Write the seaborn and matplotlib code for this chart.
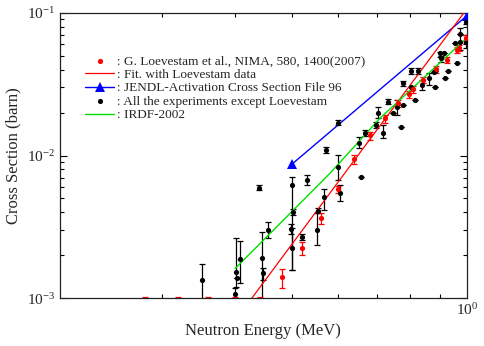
import matplotlib
matplotlib.use("Agg")
import matplotlib.pyplot as plt
import matplotlib.ticker as mticker
import seaborn as sns
import pandas as pd
import numpy as np

# ---------------- data ----------------
# Loevestam data (red points): energy (MeV), cross section (barn), error-bar ends
red_E  = [0.280, 0.319, 0.359, 0.3997, 0.4413, 0.4809, 0.5204, 0.5611, 0.6016, 0.6407,
          0.6823, 0.7237, 0.7610, 0.7969, 0.8077, 0.8421, 0.8856, 0.9239, 0.9634, 0.9712, 0.998]
red_xs = [0.0007, 0.0007, 0.0007, 0.0007, 0.0007, 0.00140, 0.00226, 0.00363, 0.00580, 0.0094,
          0.0139, 0.0182, 0.0232, 0.0268, 0.0291, 0.0338, 0.0401, 0.0466, 0.0548, 0.0563, 0.0662]
red_lo = [0.0005, 0.0005, 0.0005, 0.0005, 0.0005, 0.001175, 0.00202, 0.00330, 0.00545, 0.0087,
          0.0128, 0.0169, 0.0218, 0.0252, 0.0275, 0.0320, 0.0377, 0.0442, 0.0520, 0.0535, 0.0611]
red_hi = [0.00102, 0.00102, 0.00102, 0.00102, 0.00102, 0.00160, 0.00249, 0.00396, 0.00608, 0.0101,
          0.0147, 0.0192, 0.0245, 0.0284, 0.0307, 0.0356, 0.0424, 0.0491, 0.0578, 0.0593, 0.0699]

# All the other experiments (black points)
blk_E  = [0.351, 0.4395, 0.4007, 0.4024, 0.4076, 0.3997, 0.4454, 0.4471, 0.4550, 0.5014,
          0.5022, 0.4989, 0.5014, 0.5309, 0.5204, 0.5536, 0.5545, 0.5691, 0.6016, 0.5723,
          0.6016, 0.6060, 0.6580, 0.6535, 0.6686, 0.7169, 0.6982, 0.7046, 0.7329, 0.7700,
          0.7458, 0.7596, 0.7762, 0.7762, 0.8013, 0.8237, 0.8032, 0.8150, 0.8368, 0.8624,
          0.8821, 0.8821, 0.9033, 0.8997, 0.9141, 0.9177, 0.9298, 0.9548, 0.9612, 0.9739,
          0.9739, 0.9972, 0.999, 0.877]
blk_xs = [0.00134, 0.00595, 0.00154, 0.00138, 0.00188, 0.00107, 0.00191, 0.00150, 0.00301, 0.00621,
          0.00404, 0.00304, 0.00226, 0.00674, 0.00270, 0.00301, 0.00411, 0.00515, 0.0170, 0.0109,
          0.00835, 0.00545, 0.00704, 0.0122, 0.0143, 0.0143, 0.0164, 0.0197, 0.0238, 0.0159,
          0.0197, 0.0220, 0.0226, 0.0320, 0.0391, 0.0391, 0.0303, 0.0245, 0.0312, 0.0347,
          0.0300, 0.0393, 0.0479, 0.0519, 0.0519, 0.0347, 0.0391, 0.0611, 0.0442, 0.0626,
          0.0706, 0.0626, 0.0865, 0.0386]
blk_lo = [0.00095, 0.00569, 0.00120, 0.00138, 0.001285, 0.00100, 0.00095, 0.00134, 0.00263, 0.00158,
          0.00386, 0.00280, 0.00158, 0.00621, 0.00258, 0.00236, 0.00393, 0.00415, 0.0163, 0.0104,
          0.00674, 0.00480, 0.00704, 0.01125, 0.0137, 0.0133, 0.0157, 0.0182, 0.0228, 0.0159,
          0.0197, 0.0192, 0.0226, 0.0306, 0.0374, 0.0374, 0.0303, 0.0245, 0.0287, 0.0312,
          0.0300, 0.0393, 0.0455, 0.0491, 0.0519, 0.0347, 0.0391, 0.0611, 0.0442, 0.0548,
          0.0706, 0.0563, 0.0828, 0.0386]
blk_hi = [0.00173, 0.00624, 0.00263, 0.00138, 0.00252, 0.00118, 0.00293, 0.00163, 0.00344, 0.00710,
          0.00422, 0.00330, 0.00311, 0.00731, 0.00282, 0.00396, 0.00430, 0.00583, 0.0178, 0.0114,
          0.01008, 0.00620, 0.00704, 0.01355, 0.0150, 0.0164, 0.0171, 0.0220, 0.0249, 0.0159,
          0.0197, 0.0245, 0.0226, 0.0335, 0.0409, 0.0409, 0.0303, 0.0245, 0.0338, 0.0380,
          0.0300, 0.0393, 0.0501, 0.0533, 0.0519, 0.0347, 0.0391, 0.0611, 0.0442, 0.0778,
          0.0706, 0.0699, 0.0904, 0.0386]

# Fit with Loevestam data (red line)
fit_E  = [0.42, 1.0]
fit_xs = [0.000912, 0.106]

# JENDL-Activation Cross Section File 96 (blue line with triangles)
jendl_E  = [0.5, 1.0]
jendl_xs = [0.00865, 0.095]

# IRDF-2002 (green line)
irdf_E  = [0.40, 0.582, 0.7096, 1.0]
irdf_xs = [0.001616, 0.0075, 0.01824, 0.0665]

labels = [": G. Loevestam et al., NIMA, 580, 1400(2007)",
          ": Fit. with Loevestam data",
          ": JENDL-Activation Cross Section File 96",
          ": All the experiments except Loevestam",
          ": IRDF-2002"]

# ---------------- plotting ----------------
sns.set_style("ticks")
plt.rcParams['font.family'] = ['Liberation Serif', 'DejaVu Serif']
plt.rcParams['mathtext.fontset'] = 'custom'
plt.rcParams['mathtext.rm'] = 'Liberation Serif'
plt.rcParams['mathtext.it'] = 'Liberation Serif:italic'

fig = plt.figure(figsize=(4.84, 3.46), dpi=100)
ax = fig.add_axes([60/484, 1 - 298.3/346, 406.7/484, 285.6/346])

red_df = pd.DataFrame({"E": red_E, "xs": red_xs})
blk_df = pd.DataFrame({"E": blk_E, "xs": blk_xs})
fit_df = pd.DataFrame({"E": fit_E, "xs": fit_xs})
jendl_df = pd.DataFrame({"E": jendl_E, "xs": jendl_xs})
irdf_df = pd.DataFrame({"E": irdf_E, "xs": irdf_xs})

# error bars
ax.errorbar(blk_E, blk_xs,
            yerr=[np.array(blk_xs) - np.array(blk_lo), np.array(blk_hi) - np.array(blk_xs)],
            fmt='none', ecolor='black', elinewidth=0.9, capsize=2.2, capthick=0.9, zorder=2)
ax.errorbar(red_E, red_xs,
            yerr=[np.array(red_xs) - np.array(red_lo), np.array(red_hi) - np.array(red_xs)],
            fmt='none', ecolor='red', elinewidth=0.9, capsize=2.2, capthick=0.9, zorder=2)

sns.lineplot(data=jendl_df, x="E", y="xs", ax=ax, color='blue', linewidth=1.0,
             marker='^', markersize=7, markeredgewidth=0, label=labels[2], zorder=3)
sns.lineplot(data=fit_df, x="E", y="xs", ax=ax, color='red', linewidth=0.9,
             label=labels[1], zorder=3)
sns.lineplot(data=irdf_df, x="E", y="xs", ax=ax, color='#00e000', linewidth=1.0,
             label=labels[4], zorder=3)
sns.scatterplot(data=blk_df, x="E", y="xs", ax=ax, color='black', s=14, linewidth=0,
                label=labels[3], zorder=4)
sns.scatterplot(data=red_df, x="E", y="xs", ax=ax, color='red', s=14, linewidth=0,
                label=labels[0], zorder=4)

ax.set_xscale('log')
ax.set_yscale('log')
ax.set_xlim(0.2, 1.0)
ax.set_ylim(1e-3, 1e-1)

ax.xaxis.set_major_locator(mticker.FixedLocator([1.0]))
ax.xaxis.set_major_formatter(mticker.FixedFormatter([r"$10^{0}$"]))
ax.xaxis.set_minor_locator(mticker.FixedLocator([0.3, 0.4, 0.5, 0.6, 0.7, 0.8, 0.9]))
ax.xaxis.set_minor_formatter(mticker.NullFormatter())
ax.yaxis.set_major_locator(mticker.LogLocator(base=10))
ax.yaxis.set_minor_locator(mticker.LogLocator(base=10, subs=np.arange(2, 10)))
ax.yaxis.set_minor_formatter(mticker.NullFormatter())

ax.tick_params(which='both', direction='in', top=True, right=True, labelsize=11,
               width=0.8, color='black')
ax.tick_params(which='major', length=5)
ax.tick_params(which='minor', length=3)
ax.tick_params(axis='x', which='major', length=0, pad=3)
for sp in ax.spines.values():
    sp.set_visible(True)
    sp.set_linewidth(0.9)
    sp.set_color('#222222')

ax.set_xlabel("Neutron Energy (MeV)", fontsize=12, labelpad=3)
ax.set_ylabel("Cross Section (barn)", fontsize=12, labelpad=4)

handles, labs = ax.get_legend_handles_labels()
order = [labs.index(l) for l in labels]
ax.legend([handles[i] for i in order], [labs[i] for i in order],
          loc='upper left', bbox_to_anchor=(0.062, 0.852), frameon=False,
          fontsize=9.5, handlelength=2.2, handletextpad=0.2, labelspacing=0.1,
          borderpad=0, borderaxespad=0, markerscale=1.0)

fig.savefig("out.png", dpi=100)
